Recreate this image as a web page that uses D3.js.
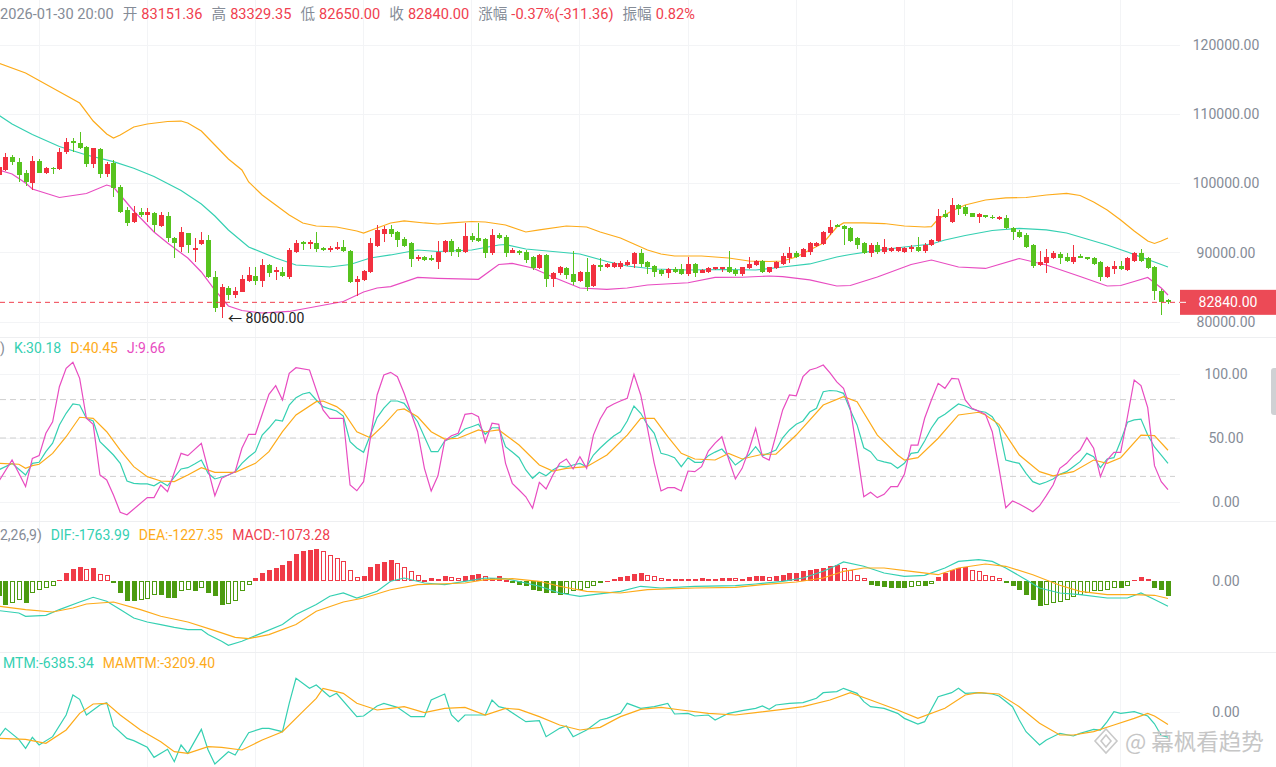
<!DOCTYPE html>
<html>
<head>
<meta charset="utf-8">
<title>K线 BOLL KDJ MACD MTM</title>
<script src="https://cdn.jsdelivr.net/npm/d3@7/dist/d3.min.js"></script>
<style>
  body { margin: 0; background: #fff; }
  svg { display: block; font-family: Roboto, "Noto Sans CJK SC", sans-serif; }
</style>
</head>
<body>
<svg width="1276" height="767" id="mainsvg"></svg>
<script>
// ---- candles (one entry per bar, oldest first) ----
const opens = [101230,101950,103830,103100,101520,100070,103250,101520,102240,102090,104550,106140,105850,105270,102820,104980,101370,102960,99490,96170,94440,95880,95450,95740,93860,95310,92130,90830,92850,90400,91260,91840,86500,82170,84910,83900,84330,85920,86640,85920,88230,87220,87220,86500,90110,91550,91260,91410,90690,90400,90540,90830,90250,85780,86070,87220,90980,92710,93430,93000,91990,91410,89100,89390,89290,88660,90110,91700,90540,90110,92420,92130,91990,89960,92560,92270,89960,90250,90110,89390,87800,89680,86210,87080,87800,86930,85920,87220,85200,88230,87940,87990,87990,88230,88380,89960,88660,88090,87510,87080,87650,87650,86930,88380,87080,87220,87650,87610,87940,87510,86930,87800,88230,88810,87220,87800,88380,89240,89960,89390,90110,90980,91260,92850,94010,93860,93570,92130,91410,89960,91120,90110,90250,90250,90110,90540,90830,90250,91120,91700,95600,94440,96900,96610,95740,95160,95450,95160,94870,95020,93570,93000,92560,91120,88230,88520,89240,89820,89390,88660,89530,89390,89240,88660,86500,87650,88090,87510,88810,89960,89240,87940,84480,83151.36];
const highs = [102670,104400,104120,103680,101950,103970,103540,102430,102380,105130,106570,106570,107440,105410,105170,105130,103100,103390,99780,96610,96750,96460,96460,95880,95880,95880,92270,93720,92850,92130,93000,92560,87360,85490,85200,85050,86790,87940,87940,89100,88380,87940,87990,90690,91840,91700,91840,93000,90880,91020,91550,91840,90400,86640,87510,92130,94010,93860,94010,93100,92270,91500,89680,89530,89680,91700,91840,91990,90830,94300,92850,94300,92130,93430,92850,92560,90690,90400,90400,89530,89820,89820,87220,88090,87940,90250,87360,89240,88380,89240,88520,88710,88850,88950,90110,90540,88810,88230,87650,87800,87940,88380,89390,88520,87650,87940,87990,87990,90250,87800,88000,89390,88950,88950,87990,88850,89920,90830,90300,90640,91600,91600,93180,94730,94150,94010,93720,92270,91600,91410,91600,91990,90790,90870,90790,91120,92270,91360,91940,96320,96170,97910,97040,96900,95780,95740,95500,95410,95310,95450,93720,93290,92850,91260,90250,90540,90300,90110,90010,91120,89820,89430,89340,88850,88090,88810,88850,89430,90150,90540,89340,88090,84770,83329.35];
const lows = [100940,101800,102670,100220,99640,99060,101450,101370,101370,101950,104260,104550,104980,102380,102280,100790,100940,98050,95740,93860,94300,95160,94440,93000,93720,91550,89240,90110,89960,88660,91120,86350,81440,80600,83180,83470,84290,85780,85340,85050,86500,86070,86540,86210,89960,90400,90540,90110,90250,90150,90400,90110,85630,83750,85920,87080,90830,91550,92320,90830,90830,87940,88850,88850,88850,87650,89960,89530,89430,89960,91600,91550,89240,89680,91990,89390,89920,89680,88520,87510,87610,85050,85050,86790,86210,85340,85820,84480,85010,87360,87800,87750,87610,88090,87800,87940,86930,86500,86640,86350,87120,86790,86640,86500,87030,87120,87510,87260,87080,86640,86640,87650,88090,87120,87120,87610,88230,88520,89200,89340,89680,90870,91120,92560,93670,91120,91600,90540,89820,89390,89820,89820,90150,90150,90010,90150,90110,90010,90980,91550,94970,94300,95450,95310,95120,94300,95020,94830,94730,93430,91840,92090,90690,87800,88090,87080,89100,88380,88710,88380,89200,88950,88280,85920,86310,86930,87510,87410,88710,88660,87610,83180,81010,82650];
const closes = [102380,103830,103100,101230,100220,103250,101520,102240,102090,104550,105990,105850,105130,102820,105130,101370,102820,99350,95880,94300,95740,95450,95880,94010,95450,92130,91410,93000,91120,90690,91840,86500,82020,85050,83900,84480,86210,86790,85920,88230,87080,87510,86640,90400,91410,91260,91550,90540,90400,90690,90830,90250,85780,86210,87360,91410,93290,93430,92710,91840,90980,89100,89390,88950,88950,90110,91700,90110,90110,92420,91840,91700,89960,92560,92130,89960,90400,89960,88950,87800,89680,86210,87080,87940,86790,85780,87220,85050,88230,87940,88380,88480,88480,88660,89960,88380,87940,87220,86930,87650,87220,86930,88380,87080,87510,87800,87940,87900,87220,86930,87940,88380,88810,87220,87940,88660,89530,89960,89390,90540,91410,91410,93000,93720,93720,93430,91700,91120,89960,91120,90110,90830,90690,90830,90690,90830,90250,91120,91840,95310,95160,96900,96320,95600,95160,95600,95160,95020,95160,93570,93000,92270,90830,88090,88660,89390,89960,89240,88810,89390,89240,89100,88380,86500,87940,88090,87650,89240,89960,88810,87800,84480,82890,82840];

// ---- BOLL bands, [bar index, value] read at the line's visible turns ----
const bollUpper = [[0,117400],[4,115960],[8,113790],[12,111620],[14,109020],[16,107150],[17,106570],[18,107000],[20,108160],[22,108590],[25,108950],[27,109020],[28,108740],[30,107580],[32,105560],[34,103540],[36,101950],[37,100220],[39,98340],[41,96900],[43,95450],[45,94300],[47,93860],[50,93720],[53,93140],[54,92850],[56,93570],[58,94300],[60,94590],[63,94300],[65,94150],[67,94300],[70,94510],[72,94440],[75,94010],[78,93000],[80,93290],[84,93860],[87,93720],[89,93000],[92,92130],[94,91260],[96,90400],[98,89820],[100,89530],[104,89530],[108,89240],[111,88810],[114,88740],[116,88810],[118,89390],[120,90400],[122,91410],[124,93720],[125,94300],[128,94300],[131,94220],[134,93860],[137,93720],[138,93760],[139,94870],[141,96030],[143,96900],[146,97620],[149,97910],[152,97980],[155,98340],[158,98560],[160,98270],[162,97330],[164,96170],[166,94730],[168,93140],[170,91700],[171,91340],[172,91700],[173,92130]];
const bollMid = [[0,109890],[2,108590],[5,107070],[9,105340],[13,104120],[17,103150],[20,102200],[23,101010],[27,98990],[30,97040],[32,95310],[34,93290],[37,90830],[41,89240],[44,88230],[49,87940],[52,88300],[55,89240],[58,89680],[62,90400],[65,90180],[70,90400],[74,91120],[75,91190],[78,90540],[82,90180],[86,89820],[90,88740],[93,88090],[97,87650],[102,87510],[107,87580],[112,87510],[116,87940],[120,88380],[124,89390],[126,89750],[130,90330],[134,90830],[138,91260],[140,91840],[143,92490],[147,93210],[151,93530],[155,93290],[158,92850],[161,91990],[164,91120],[167,90110],[170,89020],[173,87940]];
const bollLower = [[0,101950],[2,101370],[4,100070],[5,99200],[9,97980],[13,98560],[16,99780],[17,99490],[18,98340],[20,96030],[23,93000],[25,91410],[28,89240],[30,87220],[32,84620],[34,82310],[36,81660],[39,81300],[43,81520],[47,82240],[51,82960],[54,84330],[56,84910],[58,85100],[62,86430],[65,86310],[71,86170],[74,88300],[76,88470],[79,87800],[82,86500],[86,84910],[90,84720],[93,84910],[96,85340],[102,85670],[106,86430],[110,86460],[114,86640],[116,86540],[120,86070],[124,85200],[126,85270],[130,86500],[135,88300],[138,88950],[142,87940],[146,87730],[151,89170],[155,88230],[160,86570],[164,85200],[166,85270],[168,85850],[170,86430],[172,84910],[173,83900]];

// ---- KDJ ----
const kLine = [[0,25.0],[2,30.2],[4,21.1],[5,30.2],[6,31.0],[7,39.3],[8,45.9],[9,60.2],[10,69.3],[11,76.6],[12,75.8],[13,65.4],[14,63.3],[15,47.1],[16,42.0],[17,36.7],[18,30.2],[19,16.4],[20,14.6],[21,14.1],[22,14.1],[23,12.7],[24,15.9],[25,12.7],[26,19.5],[27,25.8],[28,26.8],[29,29.7],[30,32.8],[31,22.4],[32,18.0],[33,19.5],[34,21.1],[35,23.7],[36,30.2],[37,35.2],[38,39.3],[39,52.3],[40,57.8],[41,64.1],[42,63.3],[43,75.8],[44,81.5],[45,84.4],[46,85.7],[47,79.7],[48,74.5],[49,72.7],[50,71.1],[51,67.2],[52,47.1],[53,42.2],[54,38.8],[55,52.3],[56,65.9],[57,73.4],[58,78.9],[59,78.9],[60,77.1],[62,62.7],[64,39.3],[65,39.3],[66,47.7],[67,50],[68,52.3],[69,57],[70,58.8],[71,60.7],[72,52.9],[73,58.0],[74,58.0],[75,43.2],[76,39],[77,34.6],[78,25.0],[79,18.5],[80,23.2],[81,20.5],[82,25.0],[83,28.1],[84,27.3],[85,28.9],[86,30.2],[87,27.6],[88,36.7],[89,42.2],[90,47.1],[91,51.6],[92,54.9],[93,63.3],[94,75.0],[95,69.3],[96,60.2],[97,53.7],[98,38.0],[99,36.7],[100,34.6],[101,27.6],[102,34.6],[103,31.0],[104,31.0],[105,36.2],[106,39],[107,41.4],[108,35.4],[109,28.9],[110,32.8],[111,36.7],[112,43.2],[113,36.2],[114,38.3],[115,40.6],[116,50.2],[117,56.3],[118,60.7],[119,63.3],[120,70.3],[121,73.2],[122,86.2],[123,87.1],[124,86.7],[125,84.9],[126,71.9],[127,60.2],[128,42.4],[129,39.3],[130,32.8],[131,31.3],[132,30.2],[133,26.3],[134,30.2],[135,38.0],[136,38.8],[137,47.7],[138,57.8],[139,65.4],[140,68.5],[141,72.7],[142,76.6],[143,75],[144,72.7],[145,71.1],[146,70.1],[147,66.6],[148,58.0],[149,32.8],[150,31.3],[151,30.2],[152,22.4],[153,15.9],[154,13.8],[155,15.6],[156,18.0],[157,21.6],[158,23.7],[159,27.6],[160,31.5],[161,38.0],[162,35.4],[163,26.8],[164,33.6],[165,34.6],[166,47.7],[167,62.3],[168,64.1],[169,64.8],[170,52.3],[171,43],[172,36.7],[173,30.18]];
const dLine = [[0,30.2],[3,29.5],[4,26.3],[5,28.4],[6,29.5],[8,38.0],[10,51.0],[12,66.2],[14,65.4],[16,54.9],[18,40.6],[20,27.6],[22,19.8],[24,16.4],[26,15.9],[28,21.1],[30,26.8],[32,23.2],[35,23.2],[38,30.2],[40,39.3],[42,54.9],[44,68.0],[47,78.4],[48,78.9],[50,74.5],[51,70.5],[53,54.9],[55,50.2],[57,60.2],[59,71.9],[60,72.7],[62,66.6],[64,54.9],[66,49.2],[68,49.8],[71,56.3],[72,54.9],[74,56.3],[77,44.5],[80,28.9],[82,24.2],[84,26.3],[87,27.6],[90,36.7],[93,52.3],[95,65.4],[97,65.4],[99,51.0],[101,38.0],[103,33.6],[106,32.8],[108,38.0],[110,33.6],[113,37.3],[115,37.3],[118,52.3],[122,75.8],[125,82.3],[127,78.4],[130,52.3],[133,36.7],[134,32.8],[136,34.6],[139,49.8],[142,68.0],[145,70.1],[146,68.0],[148,60.7],[151,36.7],[154,23.7],[156,20.5],[159,23.7],[162,32.8],[164,30.2],[166,34.6],[169,52.3],[171,51.8],[173,40.45]];
const jLine = [[0,15.9],[2,32.8],[4,12.0],[5,34.1],[6,36.2],[7,53.7],[8,62.7],[9,90.1],[10,104.5],[11,109.1],[12,96.6],[13,65.4],[14,60.7],[15,21.1],[16,17.2],[17,5.5],[18,-8],[19,-10],[22,3.4],[23,3.4],[24,13.3],[25,8.0],[27,38.0],[28,36.2],[30,45.9],[32,4.9],[33,18.5],[35,23.7],[36,42.0],[37,52.9],[38,52.9],[40,84.1],[41,90.9],[42,79.7],[43,100.5],[44,104.9],[46,103.1],[48,71.9],[49,65.4],[51,65.4],[52,13.3],[53,8.8],[54,15.9],[56,83.6],[57,99.2],[58,101.3],[59,97.9],[60,84.9],[62,54.9],[63,26.3],[64,8.6],[65,20.5],[66,47.7],[67,51.8],[68,53.7],[69,68.5],[70,69.3],[71,66.6],[72,46.6],[73,61.5],[74,60.7],[75,30.2],[76,14.6],[77,9.4],[78,4.1],[79,-4.9],[80,15.4],[81,10.2],[82,21.1],[83,30.2],[84,33.6],[85,25.8],[86,35.4],[87,26.3],[88,52.3],[89,64.8],[90,73.7],[91,76.6],[92,78.9],[93,81.0],[94,99.8],[95,83.6],[96,57.6],[97,30.2],[98,8.6],[99,11.2],[100,11.2],[101,8.6],[102,24.2],[103,23.7],[104,27.6],[105,39.8],[106,46],[107,51.0],[108,33.6],[109,18.0],[110,26.3],[111,40.6],[112,57.6],[113,35.4],[114,32.8],[115,52.3],[116,71.9],[117,83.6],[118,83.0],[119,97.9],[120,103.1],[121,104.7],[122,107.0],[123,100.8],[124,93.8],[125,88.8],[126,73.2],[127,39.3],[128,4.1],[129,7.6],[130,3.4],[131,6.0],[132,12.0],[133,12.0],[134,21.6],[135,44.5],[136,44.5],[137,65.4],[138,79.7],[139,92.7],[140,88.8],[141,96.6],[142,96.1],[143,79.7],[144,73.2],[145,71],[146,68.5],[147,54.9],[148,26.3],[149,-4.5],[150,0.8],[151,-1.6],[152,-4.5],[153,-7.6],[154,-2.9],[155,5],[156,13.3],[157,26.3],[158,30.2],[159,36],[160,40.6],[161,50.2],[162,42.0],[163,19.8],[164,32.8],[165,38.8],[166,38.8],[167,66.6],[168,95.3],[169,90.9],[170,73.7],[171,28.4],[172,15.9],[173,9.66]];

// ---- MACD ----
const macdHist = [-1070,-1650,-1540,-1300,-1540,-840,-600,-490,-370,90,560,860,960,860,900,490,400,-140,-840,-1370,-1420,-1300,-1230,-960,-1000,-1190,-1190,-720,-610,-720,-490,-840,-1070,-1650,-1610,-1370,-720,-300,210,560,790,910,1100,1370,1890,2070,2190,2260,2070,1840,1610,1370,790,260,330,960,1190,1330,1490,1260,960,680,440,90,210,160,330,260,210,330,400,490,330,210,330,90,-140,-260,-370,-610,-720,-840,-840,-960,-910,-720,-610,-490,-370,-140,20,160,260,330,490,560,440,330,210,160,160,160,160,160,190,160,160,190,210,190,160,260,330,330,260,330,440,560,560,680,790,860,910,1030,1100,910,790,440,210,-260,-370,-440,-490,-490,-490,-440,-370,-370,-210,260,560,790,910,960,790,680,440,330,210,-140,-370,-610,-960,-1300,-1770,-1650,-1540,-1470,-1300,-1140,-1000,-840,-720,-680,-610,-490,-490,-370,90,260,160,-490,-610,-1073.28];
const difLine = [[0,-2070],[3,-2240],[4,-2470],[7,-2400],[9,-2000],[12,-1470],[14,-1140],[16,-1420],[18,-2000],[20,-2590],[22,-2870],[24,-3050],[26,-3240],[28,-3400],[30,-3400],[31,-3750],[33,-4220],[34,-4500],[36,-4220],[39,-3630],[42,-3050],[44,-2350],[47,-1650],[49,-1070],[51,-840],[53,-1190],[56,-720],[58,-20],[60,210],[63,-140],[66,-260],[69,-20],[72,210],[75,160],[78,-140],[80,-370],[83,-840],[86,-1070],[88,-960],[92,-720],[95,-370],[98,-490],[103,-370],[109,-330],[112,-210],[116,-20],[119,210],[122,680],[124,1100],[125,1330],[128,1030],[131,560],[134,330],[137,400],[140,910],[142,1370],[145,1490],[147,1370],[149,910],[152,90],[154,-490],[157,-840],[160,-960],[164,-1190],[167,-1190],[169,-840],[171,-1300],[173,-1763.99]];
const deaLine = [[0,-1770],[4,-2000],[8,-2170],[11,-1890],[13,-1610],[17,-1470],[21,-2000],[24,-2470],[28,-2870],[32,-3470],[35,-3940],[37,-4030],[40,-3750],[44,-3050],[47,-2120],[51,-1470],[54,-1190],[58,-610],[62,-260],[65,-210],[69,-140],[72,90],[76,160],[80,-20],[83,-370],[87,-720],[92,-840],[96,-610],[103,-490],[109,-440],[113,-260],[118,-70],[122,210],[125,680],[128,910],[131,910],[135,680],[139,440],[142,910],[146,1190],[149,1030],[153,440],[157,-300],[160,-720],[164,-960],[168,-960],[171,-1000],[173,-1227.35]];

// ---- MTM ----
const mtmLine = [[0,-6460],[1,-4170],[3,-6970],[4,-9270],[5,-6460],[6,-8420],[8,-6290],[10,-770],[11,4340],[12,3230],[13,-770],[15,1790],[16,2380],[17,-3570],[19,-6720],[20,-7310],[22,-9010],[23,-11560],[25,-9520],[26,-12670],[27,-8420],[28,-10540],[30,-4420],[31,-9690],[32,-13260],[34,-10120],[35,-10970],[37,-5270],[39,-4170],[40,-4170],[42,-5020],[43,2210],[44,8590],[46,6040],[47,6890],[49,3910],[50,4760],[53,-1190],[54,-1020],[56,1530],[57,2210],[59,1190],[61,-1190],[63,-1190],[64,3060],[66,4590],[67,-770],[68,-2470],[69,-770],[71,-770],[72,-770],[73,3060],[74,1360],[75,940],[78,-2470],[80,-2210],[81,-6290],[83,-4170],[84,-3570],[85,-6290],[87,-4590],[89,-2040],[90,-1620],[92,-340],[93,2210],[95,940],[97,1360],[99,2210],[100,-510],[102,-340],[103,-1020],[105,-770],[106,-2040],[108,-340],[110,340],[112,940],[113,1530],[114,680],[115,1790],[117,2210],[119,2380],[121,3490],[122,4930],[124,5190],[125,6040],[127,4760],[128,2640],[129,1360],[131,940],[133,-340],[134,-1620],[136,-3060],[137,-2470],[139,3910],[141,4930],[142,6040],[143,4760],[145,4930],[147,4590],[148,4080],[150,1360],[151,-2040],[152,-5020],[154,-8420],[155,-7140],[157,-5440],[159,-6120],[160,-5440],[162,-4420],[163,-4590],[164,-2470],[165,85],[166,-340],[168,85],[170,-1020],[171,-3000],[172,-6000],[173,-6385.34]];
const mamtmLine = [[0,-6720],[4,-6970],[7,-7990],[10,-4590],[12,-340],[14,2040],[16,2210],[18,-770],[21,-4590],[24,-7560],[26,-10120],[28,-10540],[31,-8840],[33,-9010],[36,-9690],[39,-7140],[42,-5020],[45,85],[47,3490],[48,6040],[51,4760],[53,2210],[56,510],[58,940],[60,1360],[63,-170],[66,940],[69,1190],[72,-770],[75,940],[77,680],[80,-1190],[83,-3320],[86,-4590],[89,-3910],[92,-1190],[95,680],[98,1190],[101,510],[105,-340],[109,-770],[112,-170],[116,680],[119,1360],[123,3060],[126,4930],[129,3060],[133,510],[136,-1620],[140,940],[143,4340],[145,4930],[148,4590],[151,1360],[154,-2890],[157,-5870],[159,-5870],[162,-5020],[165,-3320],[168,-1620],[170,-340],[171,-1020],[173,-3209.40]];

// ---- labels / ticks ----
const priceTicks = [80000, 90000, 100000, 110000, 120000];
const kdjTicks = [0, 50, 100];
const kdjGuides = [20, 50, 80];
const header = [["2026-01-30 20:00", 0], ["开", 0], ["83151.36", 1], ["高", 0], ["83329.35", 1], ["低", 0], ["82650.00", 1],
                ["收", 0], ["82840.00", 1], ["涨幅", 0], ["-0.37%(-311.36)", 1], ["振幅", 0], ["0.82%", 1]];
// only the tail of these legend titles is on screen
const kdjTitle = ")", macdTitle = "2,26,9)";
const lastPrice = 82840, lowMark = [33, 80600];

const C = { red: "#f2303f", green: "#57c31f", hRed: "#f03a47", hGreen: "#4c9b10", teal: "#35d0b2",
            orange: "#fdab1a", pink: "#e84cc1", grey: "#858c97", grid: "#f3f4f6" };

const svg = d3.select("#mainsvg");
const right = 1180;
const x = d3.scaleLinear().domain([0, 173]).range([-1.45, 1168]);
const bw = 4.6;
const yP = d3.scaleLinear().domain([80000, 120000]).range([322, 45]);
const yK = d3.scaleLinear().domain([0, 100]).range([502, 374]);
const yM = d3.scaleLinear().domain([-4200, 0]).range([641, 581]);
const yT = d3.scaleLinear().domain([-10200, 0]).range([752, 712]);
const panes = [[30, 337], [337, 521], [521, 652], [652, 767]];

// clip paths for every pane
const defs = svg.append("defs");
panes.forEach((p, k) => defs.append("clipPath").attr("id", "clip" + k)
  .append("rect").attr("x", 0).attr("y", p[0]).attr("width", right).attr("height", p[1] - p[0]));

// grid
const grid = svg.append("g").attr("stroke", C.grid).attr("shape-rendering", "crispEdges");
d3.range(6, 174, 16).forEach(i => grid.append("line").attr("x1", x(i)).attr("x2", x(i)).attr("y1", 0).attr("y2", 767));
priceTicks.forEach(v => grid.append("line").attr("x1", 0).attr("x2", right).attr("y1", yP(v)).attr("y2", yP(v)));
kdjTicks.forEach(v => grid.append("line").attr("x1", 0).attr("x2", right).attr("y1", yK(v)).attr("y2", yK(v)));
grid.append("line").attr("x1", 0).attr("x2", right).attr("y1", yT(0)).attr("y2", yT(0));
[337, 521, 652].forEach(y => grid.append("line").attr("x1", 0).attr("x2", 1276).attr("y1", y).attr("y2", y).attr("stroke", "#eeeff1"));

const line = (ys) => d3.line().x(d => x(d[0])).y(d => ys(d[1]));
const drawLine = (g, data, ys, color) => g.append("path").datum(data)
  .attr("d", line(ys)).attr("fill", "none").attr("stroke", color).attr("stroke-width", 1.2);

// ---- main pane ----
const gMain = svg.append("g").attr("clip-path", "url(#clip0)");
drawLine(gMain, bollUpper, yP, C.orange);
drawLine(gMain, bollMid, yP, C.teal);
drawLine(gMain, bollLower, yP, C.pink);

const idx = d3.range(opens.length);
const col = i => closes[i] >= opens[i] ? C.red : C.green;
const cg = gMain.append("g").attr("shape-rendering", "crispEdges");
cg.selectAll("line").data(idx).join("line")
  .attr("x1", i => Math.round(x(i)) + 0.5).attr("x2", i => Math.round(x(i)) + 0.5)
  .attr("y1", i => yP(highs[i])).attr("y2", i => yP(lows[i])).attr("stroke", col);
cg.selectAll("rect").data(idx).join("rect")
  .attr("x", i => Math.round(x(i)) + 0.5 - bw / 2).attr("width", bw)
  .attr("y", i => yP(Math.max(opens[i], closes[i])))
  .attr("height", i => Math.max(1, Math.abs(yP(opens[i]) - yP(closes[i]))))
  .attr("fill", col);

gMain.append("line").attr("x1", 0).attr("x2", right).attr("y1", yP(lastPrice)).attr("y2", yP(lastPrice))
  .attr("stroke", "#f0404f").attr("stroke-dasharray", "5,4");
gMain.append("text").attr("x", x(lowMark[0]) + 6.5).attr("y", yP(lowMark[1]) + 5)
  .attr("font-size", 14).attr("fill", "#222").text("← " + d3.format(".2f")(lowMark[1]));

// ---- KDJ pane ----
const gK = svg.append("g").attr("clip-path", "url(#clip1)");
kdjGuides.forEach(v => gK.append("line").attr("x1", 0).attr("x2", 1175).attr("y1", yK(v)).attr("y2", yK(v))
  .attr("stroke", "#cfcfcf").attr("stroke-dasharray", "6,4"));
drawLine(gK, kLine, yK, C.teal);
drawLine(gK, dLine, yK, C.orange);
drawLine(gK, jLine, yK, C.pink);

// ---- MACD pane ----
const gM = svg.append("g").attr("clip-path", "url(#clip2)");
gM.selectAll("rect").data(idx).join("rect")
  .each(function (i) {
    const v = macdHist[i], prev = i > 0 ? macdHist[i - 1] : v;
    const c = v >= 0 ? C.hRed : C.hGreen;
    const hollow = v >= 0 ? v < prev : v > prev;
    const y0 = yM(Math.max(v, 0)), h = Math.max(1, Math.abs(yM(v) - yM(0)));
    d3.select(this).attr("shape-rendering", "crispEdges")
      .attr("x", Math.round(x(i)) - 2 + (hollow ? 0.5 : 0)).attr("width", hollow ? bw - 1 : bw)
      .attr("y", y0 + (hollow ? 0.5 : 0)).attr("height", hollow ? Math.max(1, h - 1) : h)
      .attr("fill", hollow ? "#fff" : c).attr("stroke", hollow ? c : "none");
  });
drawLine(gM, difLine, yM, C.teal);
drawLine(gM, deaLine, yM, C.orange);

// ---- MTM pane ----
const gT = svg.append("g").attr("clip-path", "url(#clip3)");
drawLine(gT, mtmLine, yT, C.teal);
drawLine(gT, mamtmLine, yT, C.orange);

// ---- right axes ----
function axis(scale, ticks) {
  const g = svg.append("g").attr("transform", "translate(1226,0)")
    .call(d3.axisRight(scale).tickValues(ticks).tickFormat(d3.format(".2f")).tickSize(0).tickPadding(0));
  g.select(".domain").remove();
  g.selectAll("text").attr("x", 0).attr("text-anchor", "middle")
    .attr("fill", C.grey).attr("font-size", 14).attr("font-family", "Roboto, sans-serif");
}
axis(yP, priceTicks);
axis(yK, kdjTicks);
axis(yM, [0]);
axis(yT, [0]);

// last price tag
svg.append("rect").attr("x", right).attr("y", yP(lastPrice) - 12.5).attr("width", 96).attr("height", 25).attr("fill", "#ec4a56");
svg.append("line").attr("x1", right).attr("x2", right + 6).attr("y1", yP(lastPrice)).attr("y2", yP(lastPrice)).attr("stroke", "#fff");
svg.append("text").attr("x", 1228).attr("y", yP(lastPrice) + 5).attr("text-anchor", "middle")
  .attr("fill", "#fff").attr("font-size", 14).text(d3.format(".2f")(lastPrice));

// scroll handle at the right edge
svg.append("rect").attr("x", 1271).attr("y", 368).attr("width", 8).attr("height", 47).attr("rx", 3).attr("fill", "#cfd1d4");

// ---- header and legends ----
function row(y, x0, items, gap, size) {
  let cx = x0;
  items.forEach(([t, c, g]) => {
    const el = svg.append("text").attr("x", cx).attr("y", y).attr("font-size", size || 14).attr("fill", c).text(t);
    cx += el.node().getComputedTextLength() + (g != null ? g : gap);
  });
}
// label -> value gap is small, value -> next label gap is wider
row(19, 0, header.map(([t, k], n) => [t, k ? "#f0404f" : C.grey, (k || n === 0) ? 9 : 4]), 9, 14.6);

row(353, 0, [[kdjTitle, C.grey], ["K:" + kLine[kLine.length - 1][1].toFixed(2), C.teal],
             ["D:" + dLine[dLine.length - 1][1].toFixed(2), C.orange], ["J:" + jLine[jLine.length - 1][1].toFixed(2), C.pink]], 9);

row(540, 0, [[macdTitle, C.grey], ["DIF:" + difLine[difLine.length - 1][1].toFixed(2), C.teal],
             ["DEA:" + deaLine[deaLine.length - 1][1].toFixed(2), C.orange], ["MACD:" + macdHist[macdHist.length - 1].toFixed(2), "#f0404f"]], 9);

row(668, 3, [["MTM:" + mtmLine[mtmLine.length - 1][1].toFixed(2), C.teal], ["MAMTM:" + mamtmLine[mamtmLine.length - 1][1].toFixed(2), C.orange]], 9);

// watermark
const wm = svg.append("g").attr("fill", "none").attr("stroke", "#c9c9c9").attr("stroke-width", 1.6);
wm.append("path").attr("d", "M1106,729 L1117,741 L1106,753 L1095,741 Z");
wm.append("path").attr("d", "M1106,735 L1111,741 L1106,747 L1101,741 Z");
svg.append("text").attr("x", 1125).attr("y", 750).attr("font-size", 22.5).attr("fill", "#c6c6c6")
  .attr("font-family", "'Noto Sans CJK SC', sans-serif").text("@ 幕枫看趋势");
</script>
</body>
</html>
